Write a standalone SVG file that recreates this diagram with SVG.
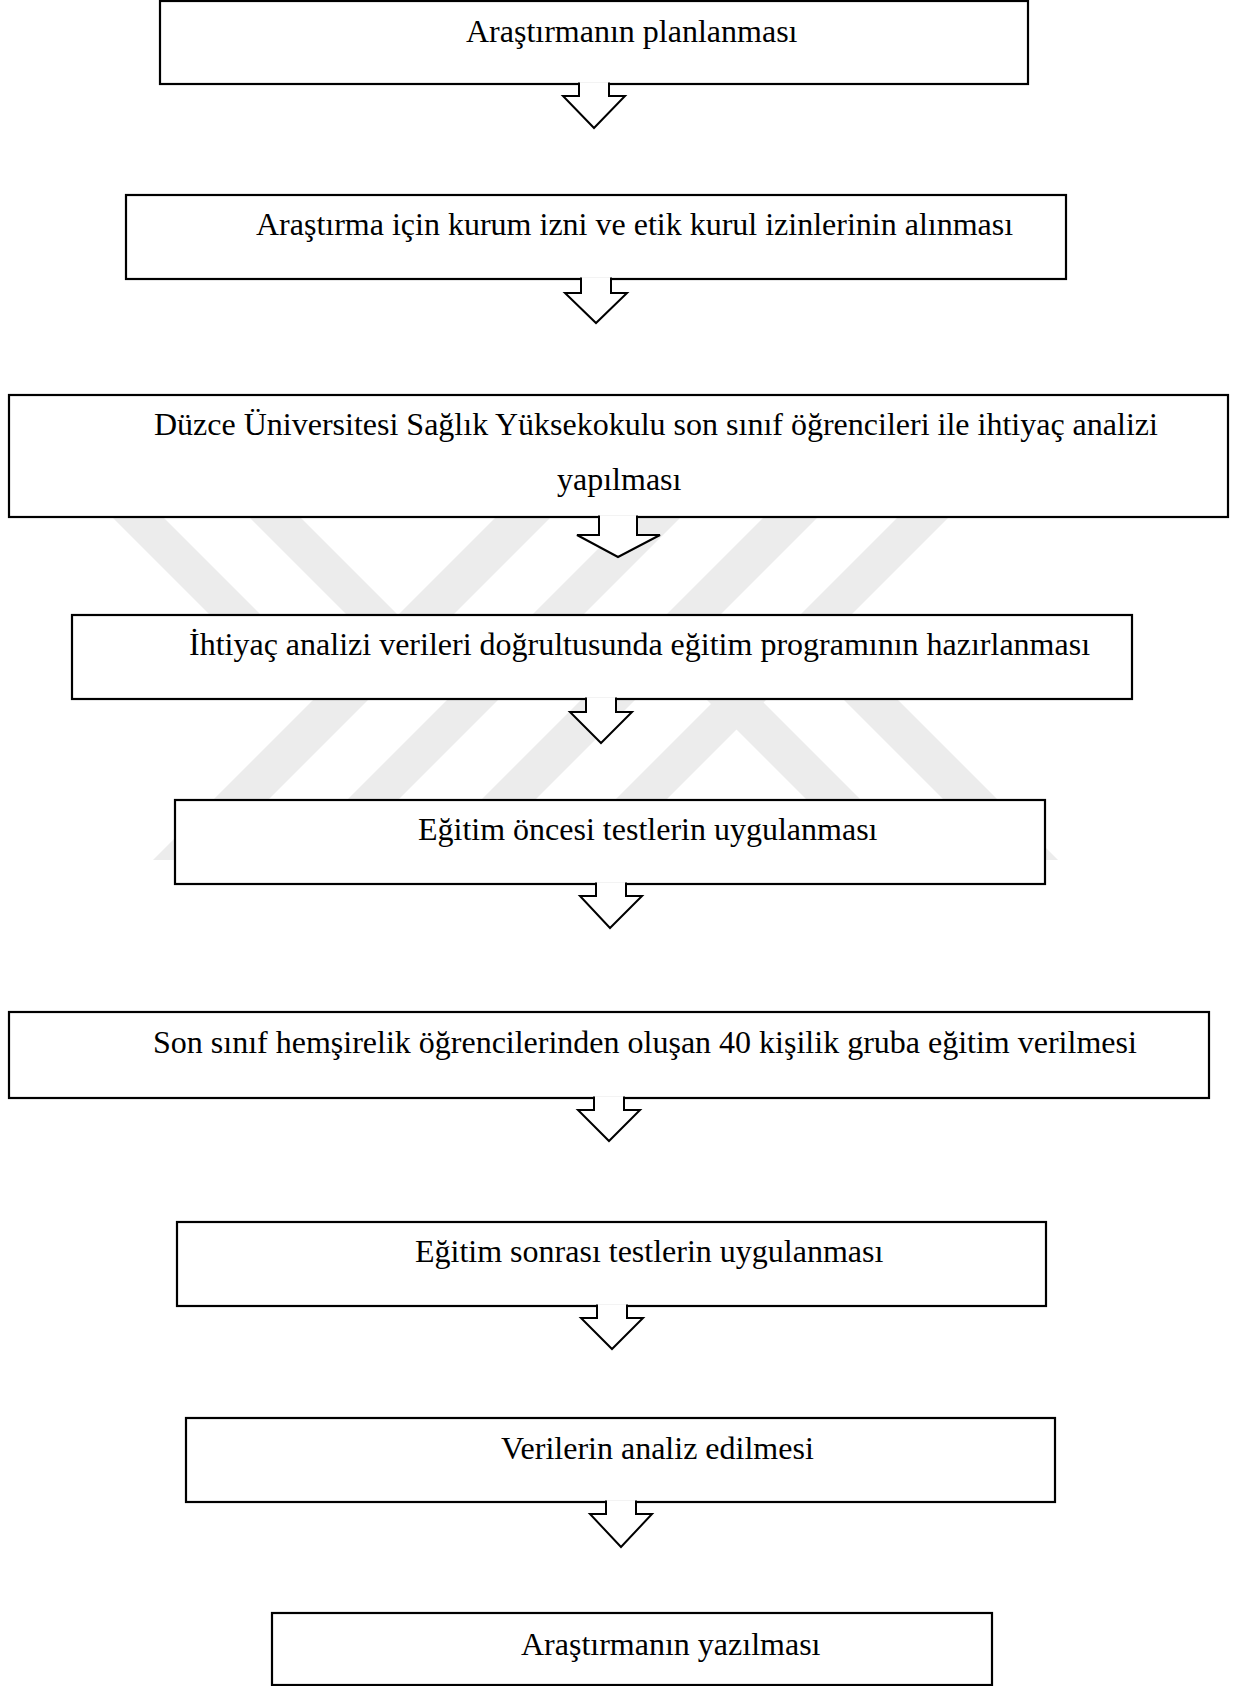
<svg xmlns="http://www.w3.org/2000/svg" width="1233" height="1686" viewBox="0 0 1233 1686">
  <style>
    .box { fill: #ffffff; stroke: #000000; stroke-width: 2.2; }
    .arrow { fill: #ffffff; stroke: #000000; stroke-width: 2; stroke-linejoin: miter; }
    .lbl { font-family: "Liberation Serif", "Times New Roman", serif; font-size: 32px; fill: #000000; }
    .wm { fill: #ececec; stroke: none; }
  </style>
  <rect x="0" y="0" width="1233" height="1686" fill="#ffffff"/>

  <g id="watermark">
    <polygon class="wm" points="508,505 563,505 208,860 153,860"/>
    <polygon class="wm" points="642,505 693,505 338,860 287,860"/>
    <polygon class="wm" points="776,505 830,505 475,860 421,860"/>
    <polygon class="wm" points="910,505 961,505 606,860 555,860"/>
    <polygon class="wm" points="100,505 151,505 296,650 245,650"/>
    <polygon class="wm" points="237,505 288,505 433,650 382,650"/>
    <polygon class="wm" points="657,650 711,650 921,860 867,860"/>
    <polygon class="wm" points="794,650 848,650 1058,860 1004,860"/>
  </g>

  <g id="node1">
    <rect class="box" x="160" y="1" width="868" height="83"/>
    <text class="lbl" x="466" y="42">Araştırmanın planlanması</text>
  </g>
  <g id="node2">
    <rect class="box" x="126" y="195" width="940" height="84"/>
    <text class="lbl" x="256" y="235">Araştırma için kurum izni ve etik kurul izinlerinin alınması</text>
  </g>
  <g id="node3">
    <rect class="box" x="9" y="395" width="1219" height="122"/>
    <text class="lbl" x="154" y="435">Düzce Üniversitesi Sağlık Yüksekokulu son sınıf öğrencileri ile ihtiyaç analizi</text>
    <text class="lbl" x="557" y="490">yapılması</text>
  </g>
  <g id="node4">
    <rect class="box" x="72" y="615" width="1060" height="84"/>
    <text class="lbl" x="189" y="655">İhtiyaç analizi verileri doğrultusunda eğitim programının hazırlanması</text>
  </g>
  <g id="node5">
    <rect class="box" x="175" y="800" width="870" height="84"/>
    <text class="lbl" x="418" y="840">Eğitim öncesi testlerin uygulanması</text>
  </g>
  <g id="node6">
    <rect class="box" x="9" y="1012" width="1200" height="86"/>
    <text class="lbl" x="153" y="1053">Son sınıf hemşirelik öğrencilerinden oluşan 40 kişilik gruba eğitim verilmesi</text>
  </g>
  <g id="node7">
    <rect class="box" x="177" y="1222" width="869" height="84"/>
    <text class="lbl" x="415" y="1262">Eğitim sonrası testlerin uygulanması</text>
  </g>
  <g id="node8">
    <rect class="box" x="186" y="1418" width="869" height="84"/>
    <text class="lbl" x="501" y="1459">Verilerin analiz edilmesi</text>
  </g>
  <g id="node9">
    <rect class="box" x="272" y="1613" width="720" height="72"/>
    <text class="lbl" x="521" y="1655">Araştırmanın yazılması</text>
  </g>

  <g id="connectors">
    <path class="arrow" d="M579,82.5 L579,96 L563,96 L594,128 L625,96 L609,96 L609,82.5"/>
    <path class="arrow" d="M581,277.5 L581,293 L565,293 L596,323 L627,293 L611,293 L611,277.5"/>
    <path class="arrow" d="M599,515.5 L599,535 L577,535 L618,557 L660,535 L637,535 L637,515.5"/>
    <path class="arrow" d="M586,697.5 L586,712 L570,712 L601,743 L632,712 L616,712 L616,697.5"/>
    <path class="arrow" d="M596,882.5 L596,896 L580,896 L610,928 L642,896 L626,896 L626,882.5"/>
    <path class="arrow" d="M594,1096.5 L594,1110 L578,1110 L609,1141 L640,1110 L624,1110 L624,1096.5"/>
    <path class="arrow" d="M597,1304.5 L597,1318 L581,1318 L612,1349 L643,1318 L627,1318 L627,1304.5"/>
    <path class="arrow" d="M606,1500.5 L606,1514 L590,1514 L621,1547 L652,1514 L636,1514 L636,1500.5"/>
  </g>
</svg>
